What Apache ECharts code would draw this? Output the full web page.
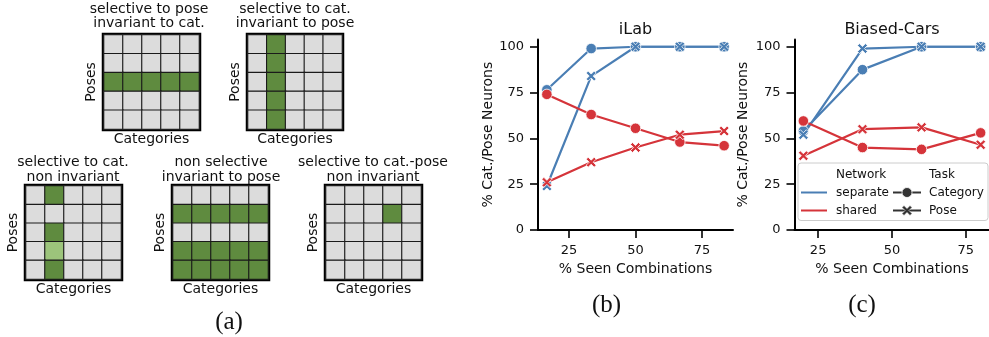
<!DOCTYPE html>
<html><head><meta charset="utf-8">
<script src="https://cdn.jsdelivr.net/npm/echarts@6/dist/echarts.min.js"></script>
<style>html,body{margin:0;padding:0;background:#fff}#c{width:989px;height:337px}</style>
</head><body><div id="c"></div>
<script>
// ---------------- data ----------------
const heatCategories = ['C1', 'C2', 'C3', 'C4', 'C5'];
const heatPoses = ['P1', 'P2', 'P3', 'P4', 'P5'];
const heatTitles = [
  ['selective to pose', 'invariant to cat.'],
  ['selective to cat.', 'invariant to pose'],
  ['selective to cat.', 'non invariant'],
  ['non selective', 'invariant to pose'],
  ['selective to cat.-pose', 'non invariant']
];
// rows = poses (top to bottom), cols = categories; 1 = selective, 0.5 = weak, 0 = none
const patternPoseSelective = [[0,0,0,0,0],[0,0,0,0,0],[1,1,1,1,1],[0,0,0,0,0],[0,0,0,0,0]];
const patternCatSelective  = [[0,1,0,0,0],[0,1,0,0,0],[0,1,0,0,0],[0,1,0,0,0],[0,1,0,0,0]];
const patternCatNonInv     = [[0,1,0,0,0],[0,0,0,0,0],[0,1,0,0,0],[0,0.5,0,0,0],[0,1,0,0,0]];
const patternNonSelective  = [[0,0,0,0,0],[1,1,1,1,1],[0,0,0,0,0],[1,1,1,1,1],[1,1,1,1,1]];
const patternCatPose       = [[0,0,0,0,0],[0,0,0,1,0],[0,0,0,0,0],[0,0,0,0,0],[0,0,0,0,0]];
const heatPatterns = [patternPoseSelective, patternCatSelective, patternCatNonInv, patternNonSelective, patternCatPose];

const iLabSeen = [16.67, 33.33, 50, 66.67, 83.33];
const iLabSeparateCategory = [76.5, 99, 100, 100, 100];
const iLabSeparatePose     = [24, 84, 100, 100, 100];
const iLabSharedCategory   = [74, 63, 55.5, 48, 46];
const iLabSharedPose       = [26, 37, 45, 52, 54];

const carsSeen = [20, 40, 60, 80];
const carsSeparateCategory = [54, 87.5, 100, 100];
const carsSeparatePose     = [52, 99, 100, 100];
const carsSharedCategory   = [59.5, 45, 44, 53];
const carsSharedPose       = [40.5, 55, 56, 46.5];

const xTickValues = [25, 50, 75];
const yTickValues = [0, 25, 50, 75, 100];

// ---------------- layout / style ----------------
const BLUE = '#4a7eb4', RED = '#d5343a';
const GREEN = '#5f8b3f', LIGHTGREEN = '#9cc47b', GRAY = '#dcdcdc';
const FONT = 'DejaVu Sans';
const X_PATH = 'path://M0,2 L2,0 L5,3 L8,0 L10,2 L7,5 L10,8 L8,10 L5,7 L2,10 L0,8 L3,5 Z';

const heatGrids = [
  {left: 104, top: 35, width: 95, height: 94, t1: 9, t2: 23.5, tx: 149},
  {left: 248, top: 35, width: 94, height: 94, t1: 9, t2: 23.5, tx: 295},
  {left: 26, top: 186, width: 95, height: 93, t1: 162.5, t2: 177, tx: 73},
  {left: 173, top: 186, width: 95, height: 93, t1: 162.5, t2: 177, tx: 221},
  {left: 326, top: 186, width: 95, height: 93, t1: 162.5, t2: 177, tx: 373}
];
const lineGrids = [
  {left: 538, top: 39.4, width: 195, height: 190.6, xmin: 13.333, xmax: 86.667, title: 'iLab', nameGap: 43},
  {left: 794.5, top: 39.4, width: 195, height: 190.6, xmin: 17, xmax: 83, title: 'Biased-Cars', nameGap: 44}
];

const grid = [], xAxis = [], yAxis = [], series = [], graphic = [];

heatGrids.forEach((g, i) => {
  grid.push({left: g.left, top: g.top, width: g.width, height: g.height, show: true,
    borderColor: '#000', borderWidth: 4.5, backgroundColor: 'transparent', outerBoundsMode: 'none', containLabel: false});
  xAxis.push({gridIndex: i, type: 'category', data: heatCategories,
    axisLine: {show: false}, axisTick: {show: false}, axisLabel: {show: false}, splitLine: {show: false},
    name: 'Categories', nameLocation: 'middle', nameGap: 3,
    nameTextStyle: {fontFamily: FONT, fontSize: 14, color: '#111', verticalAlign: 'top'}});
  yAxis.push({gridIndex: i, type: 'category', data: heatPoses, inverse: true,
    axisLine: {show: false}, axisTick: {show: false}, axisLabel: {show: false}, splitLine: {show: false},
    name: 'Poses', nameLocation: 'middle', nameGap: 6, nameRotate: 90,
    nameTextStyle: {fontFamily: FONT, fontSize: 14, color: '#111'}});
  const data = [];
  heatPatterns[i].forEach((row, r) => row.forEach((v, c) => data.push([c, r, v])));
  series.push({type: 'heatmap', xAxisIndex: i, yAxisIndex: i, data,
    itemStyle: {borderColor: '#1a1a1a', borderWidth: 1.1}, emphasis: {disabled: true}, silent: true});
  graphic.push({type: 'text', x: g.tx, y: g.t1, style: {text: heatTitles[i][0], font: '14px ' + FONT, fill: '#111', align: 'center', verticalAlign: 'middle'}});
  graphic.push({type: 'text', x: g.tx, y: g.t2, style: {text: heatTitles[i][1], font: '14px ' + FONT, fill: '#111', align: 'center', verticalAlign: 'middle'}});
});

const lineSets = [
  {seen: iLabSeen, sc: iLabSeparateCategory, sp: iLabSeparatePose, hc: iLabSharedCategory, hp: iLabSharedPose},
  {seen: carsSeen, sc: carsSeparateCategory, sp: carsSeparatePose, hc: carsSharedCategory, hp: carsSharedPose}
];

lineGrids.forEach((g, j) => {
  const gi = heatGrids.length + j;
  grid.push({left: g.left, top: g.top, width: g.width, height: g.height, outerBoundsMode: 'none', containLabel: false});
  xAxis.push({gridIndex: gi, type: 'value', min: g.xmin, max: g.xmax,
    axisLine: {show: true, onZero: false, lineStyle: {color: '#000', width: 2}},
    axisTick: {show: true, customValues: xTickValues, length: 8, lineStyle: {color: '#000', width: 1.6}},
    axisLabel: {show: true, customValues: xTickValues, margin: 14, fontFamily: FONT, fontSize: 13, color: '#111'},
    splitLine: {show: false},
    name: '% Seen Combinations', nameLocation: 'middle', nameGap: 30,
    nameTextStyle: {fontFamily: FONT, fontSize: 14, color: '#111', verticalAlign: 'top'}});
  yAxis.push({gridIndex: gi, type: 'value', min: 0, max: 104,
    axisLine: {show: true, onZero: false, lineStyle: {color: '#000', width: 2}},
    axisTick: {show: true, customValues: yTickValues, length: 8, lineStyle: {color: '#000', width: 1.6}},
    axisLabel: {show: true, customValues: yTickValues, margin: 14, fontFamily: FONT, fontSize: 13, color: '#111'},
    splitLine: {show: false},
    name: '% Cat./Pose Neurons', nameLocation: 'middle', nameGap: g.nameGap, nameRotate: 90,
    nameTextStyle: {fontFamily: FONT, fontSize: 14, color: '#111'}});
  const s = lineSets[j];
  const mk = (vals) => s.seen.map((x, k) => [x, vals[k]]);
  const defs = [
    {vals: s.sc, color: BLUE, sym: 'circle', size: 10.5},
    {vals: s.sp, color: BLUE, sym: X_PATH, size: 10},
    {vals: s.hc, color: RED, sym: 'circle', size: 10.5},
    {vals: s.hp, color: RED, sym: X_PATH, size: 10}
  ];
  defs.forEach(d => series.push({type: 'line', xAxisIndex: gi, yAxisIndex: gi, data: mk(d.vals),
    symbol: d.sym, symbolSize: d.size, showAllSymbol: true, silent: true,
    lineStyle: {color: d.color, width: 2.2},
    itemStyle: {color: d.color, borderColor: '#fff', borderWidth: 0.8, opacity: 1},
    emphasis: {disabled: true}, animation: false}));
  graphic.push({type: 'text', x: g.left + g.width / 2, y: 30, style: {text: g.title, font: '16px ' + FONT, fill: '#111', align: 'center', verticalAlign: 'middle'}});
});

// panel letters
const letterFont = '25px "Liberation Serif"';
graphic.push({type: 'text', x: 229, y: 322.5, style: {text: '(a)', font: letterFont, fill: '#111', align: 'center', verticalAlign: 'middle'}});
graphic.push({type: 'text', x: 606.5, y: 305, style: {text: '(b)', font: letterFont, fill: '#111', align: 'center', verticalAlign: 'middle'}});
graphic.push({type: 'text', x: 862, y: 305, style: {text: '(c)', font: letterFont, fill: '#111', align: 'center', verticalAlign: 'middle'}});

// legend (Biased-Cars panel)
const LG = {x: 798, y: 163, w: 190, h: 57.5};
const legendItems = [];
legendItems.push({type: 'rect', shape: {x: LG.x, y: LG.y, width: LG.w, height: LG.h, r: 3}, style: {fill: 'rgba(255,255,255,0.85)', stroke: '#cccccc', lineWidth: 1}});
const lt = (txt, x, y) => ({type: 'text', x, y, style: {text: txt, font: '12px ' + FONT, fill: '#111', align: 'left', verticalAlign: 'middle'}});
legendItems.push(lt('Network', 836, 174.5));
legendItems.push(lt('Task', 929, 174.5));
legendItems.push(lt('separate', 836, 192.5));
legendItems.push(lt('shared', 836, 210.5));
legendItems.push(lt('Category', 929, 192.5));
legendItems.push(lt('Pose', 929, 210.5));
legendItems.push({type: 'line', shape: {x1: 801, y1: 192.5, x2: 827, y2: 192.5}, style: {stroke: BLUE, lineWidth: 2}});
legendItems.push({type: 'line', shape: {x1: 801, y1: 210.5, x2: 827, y2: 210.5}, style: {stroke: RED, lineWidth: 2}});
legendItems.push({type: 'line', shape: {x1: 893, y1: 192.5, x2: 921, y2: 192.5}, style: {stroke: '#333', lineWidth: 2}});
legendItems.push({type: 'line', shape: {x1: 893, y1: 210.5, x2: 921, y2: 210.5}, style: {stroke: '#333', lineWidth: 2}});
legendItems.push({type: 'circle', shape: {cx: 907, cy: 192.5, r: 5}, style: {fill: '#333', stroke: '#fff', lineWidth: 0.8}});
const xc = 907, yc = 210.5, k = 1.0;
const xpts = [[0,2],[2,0],[5,3],[8,0],[10,2],[7,5],[10,8],[8,10],[5,7],[2,10],[0,8],[3,5]].map(p => [xc + (p[0] - 5) * k, yc + (p[1] - 5) * k]);
legendItems.push({type: 'polygon', shape: {points: xpts}, style: {fill: '#333', stroke: '#fff', lineWidth: 0.6}});
graphic.push({type: 'group', z: 100, children: legendItems});

const option = {
  animation: false,
  backgroundColor: '#fff',
  textStyle: {fontFamily: FONT},
  grid, xAxis, yAxis, series, graphic,
  visualMap: {type: 'piecewise', show: false, seriesIndex: [0, 1, 2, 3, 4], dimension: 2,
    pieces: [{value: 0, color: GRAY}, {value: 0.5, color: LIGHTGREEN}, {value: 1, color: GREEN}]}
};
const chart = echarts.init(document.getElementById('c'), null, {renderer: 'canvas'});
chart.setOption(option);
</script>
</body></html>
